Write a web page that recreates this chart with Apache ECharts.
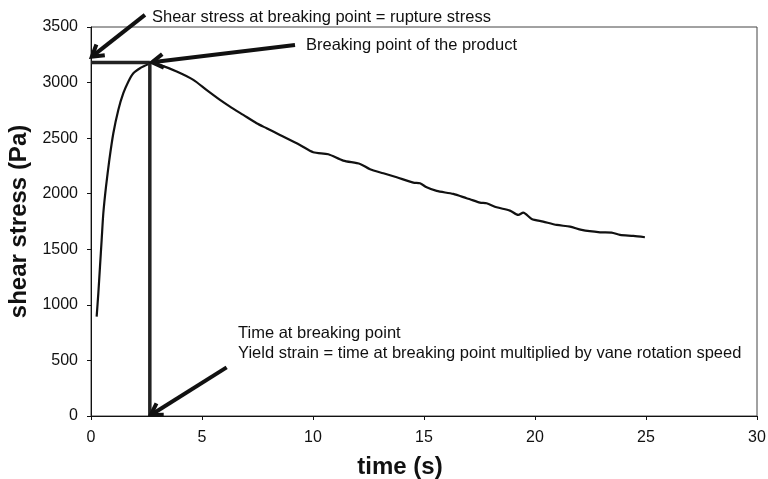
<!DOCTYPE html>
<html>
<head>
<meta charset="utf-8">
<script src="https://cdn.jsdelivr.net/npm/echarts@6/dist/echarts.min.js"></script>
<style>html,body{margin:0;padding:0;background:#fff}#c{width:768px;height:479px}</style>
</head>
<body>
<div id="c"></div>
<script>
// Measured shear stress curve
const time = [0.255,0.33,0.405,0.48,0.555,0.676,0.826,1.006,1.23,1.456,1.68,1.907,2.207,2.51,2.66,3.1,3.86,4.61,5.2,5.81,6.26,6.86,7.46,7.91,8.51,9.41,10.01,10.69,11.36,12.12,12.57,13.17,13.77,14.52,14.82,15.12,15.57,16.32,16.92,17.07,17.52,17.82,18.27,18.87,19.25,19.47,19.85,20.37,20.98,21.58,22.10,22.93,23.45,23.83,24.43,24.95];
const stress = [894,1104,1344,1584,1824,2064,2304,2544,2754,2904,3008,3084,3129,3159,3180,3159,3099,3024,2934,2844,2784,2709,2634,2589,2529,2439,2373,2355,2298,2268,2220,2184,2148,2100,2094,2058,2025,1998,1959,1950,1920,1914,1878,1848,1809,1830,1773,1749,1719,1704,1674,1653,1650,1629,1620,1608];
// Breaking point
const breakTime = 2.65;
const breakStress = 3180;
// Arrows: [tailTime, tailStress, headTime, headStress]
const arrows = [[2.43,3609,0.04,3233],[9.19,3339,2.75,3183],[6.11,438,2.69,9]];
const xTicks = {min:0,max:30,interval:5};
const yTicks = {min:0,max:3500,interval:500};

const chart = echarts.init(document.getElementById('c'));
const F = 'Arial, "Liberation Sans", sans-serif';
chart.setOption({
  animation:false,
  backgroundColor:'#fff',
  grid:{left:91,right:11,top:27,bottom:63,show:true,borderColor:'#444',borderWidth:1,containLabel:false,outerBoundsMode:'none'},
  xAxis:{type:'value',min:xTicks.min,max:xTicks.max,interval:xTicks.interval,
    name:'time (s)',nameLocation:'middle',nameGap:39,
    nameTextStyle:{fontFamily:F,fontSize:24,fontWeight:'bold',color:'#111',padding:[0,48,0,0]},
    axisLine:{lineStyle:{color:'#111',width:1}},axisTick:{length:4,lineStyle:{color:'#111'}},
    axisLabel:{fontFamily:F,fontSize:16,color:'#111',margin:14,formatter:v=>String(v)},splitLine:{show:false}},
  yAxis:{type:'value',min:yTicks.min,max:yTicks.max,interval:yTicks.interval,
    name:'shear stress (Pa)',nameLocation:'middle',nameGap:55,
    nameTextStyle:{fontFamily:F,fontSize:24,fontWeight:'bold',color:'#111'},
    axisLine:{show:true,lineStyle:{color:'#111',width:1}},axisTick:{show:true,length:4,lineStyle:{color:'#111'}},
    axisLabel:{fontFamily:F,fontSize:16,color:'#111',margin:13,formatter:v=>String(v)},splitLine:{show:false}},
  series:[
    {type:'line',data:time.map((t,i)=>[t,stress[i]]),showSymbol:false,smooth:0.25,
     lineStyle:{color:'#111',width:2.2},z:3},
    {type:'line',data:[[xTicks.min,breakStress],[breakTime,breakStress]],showSymbol:false,
     lineStyle:{color:'#222',width:3.5},z:4},
    {type:'line',data:[[breakTime,breakStress],[breakTime,yTicks.min]],showSymbol:false,
     lineStyle:{color:'#222',width:3.5},z:4},
    {type:'custom',data:arrows,clip:false,z:5,
     renderItem:function(params,api){
       const p1=api.coord([api.value(0),api.value(1)]);
       const p2=api.coord([api.value(2),api.value(3)]);
       const ang=Math.atan2(p2[1]-p1[1],p2[0]-p1[0]);
       const L=13,a=0.55;
       const h1=[p2[0]-L*Math.cos(ang-a),p2[1]-L*Math.sin(ang-a)];
       const h2=[p2[0]-L*Math.cos(ang+a),p2[1]-L*Math.sin(ang+a)];
       const e=[p2[0]-2*Math.cos(ang),p2[1]-2*Math.sin(ang)];
       return {type:'group',children:[
         {type:'line',shape:{x1:p1[0],y1:p1[1],x2:e[0],y2:e[1]},style:{stroke:'#111',lineWidth:4}},
         {type:'polyline',shape:{points:[h1,p2,h2]},style:{stroke:'#111',lineWidth:4,fill:null,lineJoin:'miter'}}
       ]};
     }}
  ],
  graphic:[
    {type:'text',left:152,top:9,style:{text:'Shear stress at breaking point = rupture stress',font:'16.5px '+F,fill:'#111'}},
    {type:'text',left:306,top:37,style:{text:'Breaking point of the product',font:'16.5px '+F,fill:'#111'}},
    {type:'text',left:238,top:323,style:{text:'Time at breaking point\nYield strain = time at breaking point multiplied by vane rotation speed',font:'16.5px '+F,fill:'#111',lineHeight:20}}
  ]
});
</script>
</body>
</html>
